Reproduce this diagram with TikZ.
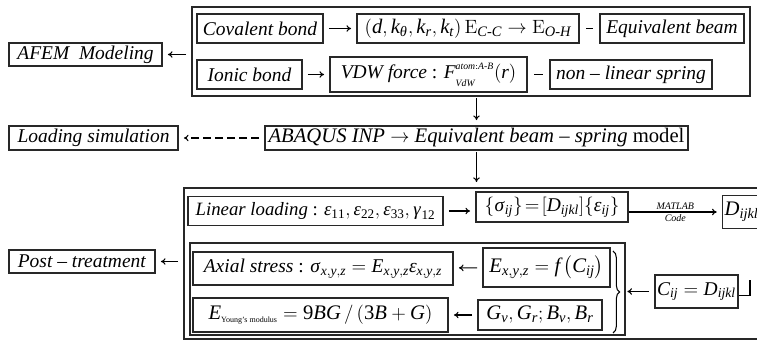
\documentclass[tikz,border=0pt]{standalone}
\usepackage{amsmath}
\usepackage{mathspec}
\setmainfont{Liberation Serif}
\setmathsfont(Digits,Latin,Greek){Liberation Serif}
\usepackage{tikz}
\usetikzlibrary{positioning, arrows.meta, fit, decorations.pathreplacing}
\definecolor{boxline}{RGB}{40, 40, 40}
\newcommand{\strain}{\text{\itshape ε}}

\begin{document}
\begin{tikzpicture}[
    x=0.75pt, y=-0.75pt,
    every node/.style={font=\fontsize{14.6}{17}\selectfont},
    box/.style={rectangle, draw=boxline, line width=0.9pt, inner xsep=1.5pt, inner ysep=1pt, align=center},
    frame/.style={rectangle, draw=boxline, line width=1pt, inner sep=0pt},
    arr/.style={-{To[length=3.5pt, width=5pt]}, line width=0.8pt, shorten <=4pt, shorten >=4pt},
    dashline/.style={line width=0.8pt, shorten <=5pt, shorten >=5pt},
    tag/.style={font=\fontsize{7.5}{8}\selectfont\itshape, inner sep=1.5pt}
]
    \path[use as bounding box, clip] (0,0) rectangle (757,343);

    % AFEM modeling block
    \node[frame, fit={(192,7) (750,96)}] (topframe) {};
    \node[box, minimum width=94.5pt, minimum height=21.75pt] (cov) at (260,28.5) {\textit{Covalent bond}};
    \node[box, minimum width=166.5pt, minimum height=21.75pt, font=\fontsize{15.5}{18}\selectfont] (cc) at (468,28.5)
        {$\left(d,k_\theta,k_r,k_t\right)\mathrm{E}_{C\text{-}C}\rightarrow\mathrm{E}_{O\text{-}H}$};
    \node[box, minimum width=108pt, minimum height=21.75pt] (eqb) at (672,28.5) {\textit{Equivalent beam}};
    \node[box, minimum width=78.75pt, minimum height=21.75pt] (ion) at (249.5,74.5) {\textit{Ionic bond}};
    \node[box, minimum width=147.75pt, minimum height=26.25pt] (vdw) at (428.5,74.5)
        {\textit{VDW force} : $F_{\raisebox{-2pt}{$\scriptscriptstyle VdW$}}^{\raisebox{2pt}{$\scriptscriptstyle atom:A\text{-}B$}}(r)$};
    \node[box, minimum width=121.5pt, minimum height=21.75pt] (nls) at (631,74.5) {\textit{non -- linear spring}};
    \node[box, minimum width=114.75pt, minimum height=17.25pt] (afem) at (85.5,54.5) {\textit{AFEM\ \ Modeling}};

    \draw[arr] (cov) -- (cc);
    \draw[dashline] (cc) -- (eqb);
    \draw[arr] (ion) -- (vdw);
    \draw[dashline] (vdw) -- (nls);
    \draw[arr] (topframe.west |- afem) -- (afem.east);

    % ABAQUS model
    \node[box, minimum width=317.25pt, minimum height=18pt, font=\fontsize{15.5}{18}\selectfont] (abq) at (476.5,138)
        {\textit{ABAQUS INP} $\rightarrow$ \textit{Equivalent beam -- spring} model};
    \node[box, minimum width=126.75pt, minimum height=18pt] (loadsim) at (93.5,138) {\textit{Loading simulation}};

    \draw[arr, shorten <=1pt] (topframe.south -| abq) -- (abq.north);
    \draw[arr, dash pattern=on 6pt off 3pt] (abq.west) -- (loadsim.east);

    % Post-treatment block
    \node[frame, fit={(184,188) (775,339)}] (postframe) {};
    \node[frame, fit={(190,243) (625,335)}] (inframe) {};
    \draw[arr, shorten <=1pt] (abq.south) -- (postframe.north -| abq);

    \node[box, minimum width=191.25pt, minimum height=22pt, font=\fontsize{14.1}{16}\selectfont] (lin) at (315.5,211)
        {\textit{Linear loading} : $\strain_{11},\strain_{22},\strain_{33},\gamma_{12}$};
    \node[box, minimum width=114pt, minimum height=22.5pt, inner xsep=0.5pt] (sig) at (552,207)
        {$\left\{\sigma_{ij}\right\}\!=\!\left[D_{ijkl}\right]\!\left\{\strain_{ij}\right\}$};
    \node[box, anchor=west, minimum height=24.75pt, font=\fontsize{15.5}{18}\selectfont] (dij) at (722,212) {$D_{ijkl}$};

    \draw[arr] (lin.east) -- (sig.west |- lin.east);
    \draw[arr, shorten <=0pt] (sig.east |- dij.west) -- (dij.west)
        node[tag, midway, above] (matlab) {MATLAB}
        node[tag, midway, below] (code) {Code};

    \node[box, minimum width=195pt, minimum height=24.75pt] (axial) at (323,268.5)
        {\textit{Axial stress} : $\sigma_{x,y,z}=E_{x,y,z}\strain_{x,y,z}$};
    \node[box, minimum width=95.25pt, minimum height=29.25pt, font=\fontsize{15.5}{18}\selectfont] (exyz) at (546.5,267.5)
        {$E_{x,y,z}=f\left(C_{ij}\right)$};
    \node[box, minimum width=191.25pt, minimum height=25.5pt, font=\fontsize{15.5}{18}\selectfont] (young) at (320.5,315)
        {$E_{\text{\fontsize{6}{7}\selectfont Young's modulus}}=9BG\,/\left(3B+G\right)$};
    \node[box, minimum width=93pt, minimum height=22.5pt, font=\fontsize{15.5}{18}\selectfont] (gbox) at (540,315) {$G_v, G_r ; B_v, B_r$};
    \node[box, minimum width=62.25pt, minimum height=24.75pt] (cij) at (696.5,291.5) {$C_{ij}=D_{ijkl}$};
    \node[box, minimum width=109.5pt, minimum height=17.25pt] (post) at (82,261.5) {\textit{Post -- treatment}};

    \draw[decorate, decoration={brace, amplitude=5pt}, line width=0.8pt] (613,251) -- (613,333);
    \coordinate (bracetip) at (622,291.5);
    \coordinate (hooktop) at (750,280);

    \draw[arr] (exyz) -- (axial);
    \draw[arr] (gbox) -- (young);
    \draw[arr] (cij.west) -- (bracetip);
    \draw[line width=0.9pt] ([yshift=-3pt]cij.east) -| (hooktop);
    \draw[arr] (postframe.west |- post) -- (post.east);
\end{tikzpicture}
\end{document}
